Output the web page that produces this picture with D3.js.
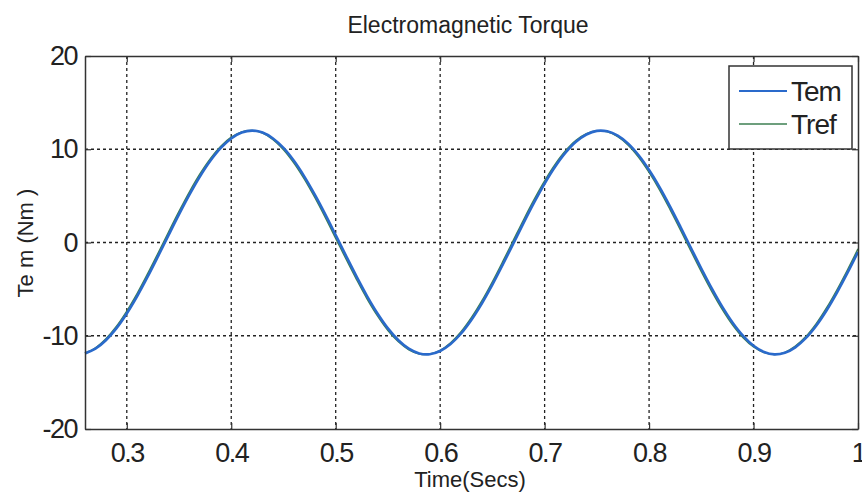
<!DOCTYPE html>
<html><head><meta charset="utf-8">
<script src="https://cdn.jsdelivr.net/npm/d3@7"></script>
<style>body{margin:0;background:#fff;} svg{display:block;font-family:"Liberation Sans",Arial,sans-serif;}</style>
</head><body><svg id="c" width="862" height="501"></svg>
<script>
const title = "Electromagnetic Torque";
const xLabel = "Time(Secs)";
const yLabel = "Te m (Nm )";
const xTicks = [0.3,0.4,0.5,0.6,0.7,0.8,0.9,1];
const xTickLabels = ["0.3","0.4","0.5","0.6","0.7","0.8","0.9","1"];
const yTicks = [-20,-10,0,10,20];
const yTickLabels = ["-20","-10","0","10","20"];
const legendLabels = ["Tem","Tref"];
const time = [0.26,0.27,0.28,0.29,0.30,0.31,0.32,0.33,0.34,0.35,0.36,0.37,0.38,0.39,0.40,0.41,0.42,0.43,0.44,0.45,0.46,0.47,0.48,0.49,0.50,0.51,0.52,0.53,0.54,0.55,0.56,0.57,0.58,0.59,0.60,0.61,0.62,0.63,0.64,0.65,0.66,0.67,0.68,0.69,0.70,0.71,0.72,0.73,0.74,0.75,0.76,0.77,0.78,0.79,0.80,0.81,0.82,0.83,0.84,0.85,0.86,0.87,0.88,0.89,0.90,0.91,0.92,0.93,0.94,0.95,0.96,0.97,0.98,0.99,1.00];
const tem = [-11.90,-11.39,-10.48,-9.21,-7.61,-5.74,-3.66,-1.46,0.79,3.01,5.13,7.07,8.76,10.14,11.16,11.79,12.00,11.79,11.16,10.14,8.76,7.07,5.13,3.02,0.79,-1.46,-3.66,-5.74,-7.61,-9.21,-10.48,-11.39,-11.90,-11.98,-11.64,-10.89,-9.76,-8.28,-6.52,-4.52,-2.36,-0.12,2.13,4.30,6.32,8.12,9.63,10.80,11.58,11.97,11.92,11.46,10.60,9.35,7.78,5.94,3.88,1.69,-0.56,-2.79,-4.92,-6.88,-8.60,-10.01,-11.07,-11.74,-12.00,-11.83,-11.24,-10.26,-8.92,-7.26,-5.34,-3.24,-1.02];
const tref = [-11.86,-11.29,-10.32,-9.00,-7.35,-5.45,-3.34,-1.13,1.13,3.34,5.44,7.35,8.99,10.32,11.29,11.86,12.00,11.73,11.04,9.96,8.53,6.80,4.83,2.69,0.45,-1.80,-3.98,-6.04,-7.87,-9.43,-10.65,-11.50,-11.95,-11.96,-11.56,-10.75,-9.57,-8.04,-6.24,-4.21,-2.03,0.22,2.47,4.62,6.61,8.37,9.83,10.95,11.67,11.98,11.88,11.36,10.44,9.14,7.52,5.65,3.56,1.36,-0.90,-3.12,-5.23,-7.16,-8.84,-10.20,-11.20,-11.81,-12.00,-11.78,-11.12,-10.09,-8.70,-6.99,-5.04,-2.92,-0.69];

const svg = d3.select("#c");
const L=85, R=858, T=56, B=429;
const x = d3.scaleLinear().domain([0.26,1]).range([L,R]);
const y = d3.scaleLinear().domain([-20,20]).range([B,T]);
const axisColor = "#333";
const blue = "#2a6acb", green = "#3d7f52";

// grid
const grid = svg.append("g").attr("stroke","#222").attr("stroke-width",1.3).attr("stroke-dasharray","3,3");
grid.selectAll("line.gx").data(xTicks.filter(d=>d<1)).enter().append("line")
  .attr("x1",d=>x(d)).attr("x2",d=>x(d)).attr("y1",T).attr("y2",B);
grid.selectAll("line.gy").data(yTicks.filter(d=>d>-20&&d<20)).enter().append("line")
  .attr("x1",L).attr("x2",R).attr("y1",d=>y(d)).attr("y2",d=>y(d));

// curves
const line = d3.line().x(d=>x(d[0])).y(d=>y(d[1])).curve(d3.curveCatmullRom);
svg.append("path").datum(time.map((t,i)=>[t,tref[i]])).attr("d",line)
  .attr("fill","none").attr("stroke",green).attr("stroke-width",1.5);
svg.append("path").datum(time.map((t,i)=>[t,tem[i]])).attr("d",line)
  .attr("fill","none").attr("stroke",blue).attr("stroke-width",2.6);

// axes
const axB = d3.axisBottom(x).tickValues(xTicks).tickFormat((d,i)=>xTickLabels[i]).tickSizeInner(-6).tickSizeOuter(0).tickPadding(14);
const axL = d3.axisLeft(y).tickValues(yTicks).tickFormat((d,i)=>yTickLabels[i]).tickSizeInner(-6).tickSizeOuter(0).tickPadding(8);
const axT = d3.axisTop(x).tickValues(xTicks).tickFormat("").tickSizeInner(-6).tickSizeOuter(0);
const axR = d3.axisRight(y).tickValues(yTicks).tickFormat("").tickSizeInner(-6).tickSizeOuter(0);
function style(g){
  g.selectAll("path.domain").attr("stroke",axisColor).attr("stroke-width",1.5);
  g.selectAll(".tick line").attr("stroke",axisColor).attr("stroke-width",1.2);
  g.selectAll("text").attr("fill","#222").attr("font-size",27).attr("letter-spacing","-1.5px")
   .attr("font-family","'Liberation Sans',Arial,sans-serif");
}
svg.append("g").attr("transform",`translate(0,${B})`).call(axB).call(style);
svg.append("g").attr("transform",`translate(${L},0)`).call(axL).call(style);
svg.append("g").attr("transform",`translate(0,${T})`).call(axT).call(style);
svg.append("g").attr("transform",`translate(${R},0)`).call(axR).call(style);

// title & labels
svg.append("text").attr("x",468).attr("y",33).attr("text-anchor","middle")
  .attr("font-size",23).attr("fill","#222").text(title);
svg.append("text").attr("x",470).attr("y",487).attr("text-anchor","middle")
  .attr("font-size",22).attr("fill","#222").text(xLabel);
svg.append("text").attr("transform","translate(33,243) rotate(-90)").attr("text-anchor","middle")
  .attr("font-size",22).attr("fill","#222").text(yLabel);

// legend
const lg = svg.append("g");
lg.append("rect").attr("x",729).attr("y",66).attr("width",123).attr("height",83)
  .attr("fill","#fff").attr("stroke",axisColor).attr("stroke-width",1.5);
const lcols=[blue,green], ly=[91,124];
legendLabels.forEach((lab,i)=>{
  lg.append("line").attr("x1",739).attr("x2",787).attr("y1",ly[i]).attr("y2",ly[i])
    .attr("stroke",lcols[i]).attr("stroke-width",i==0?2:1.6);
  lg.append("text").attr("x",791).attr("y",ly[i]+10).attr("font-size",28).attr("letter-spacing","-1px")
    .attr("fill","#222").text(lab);
});
</script></body></html>
